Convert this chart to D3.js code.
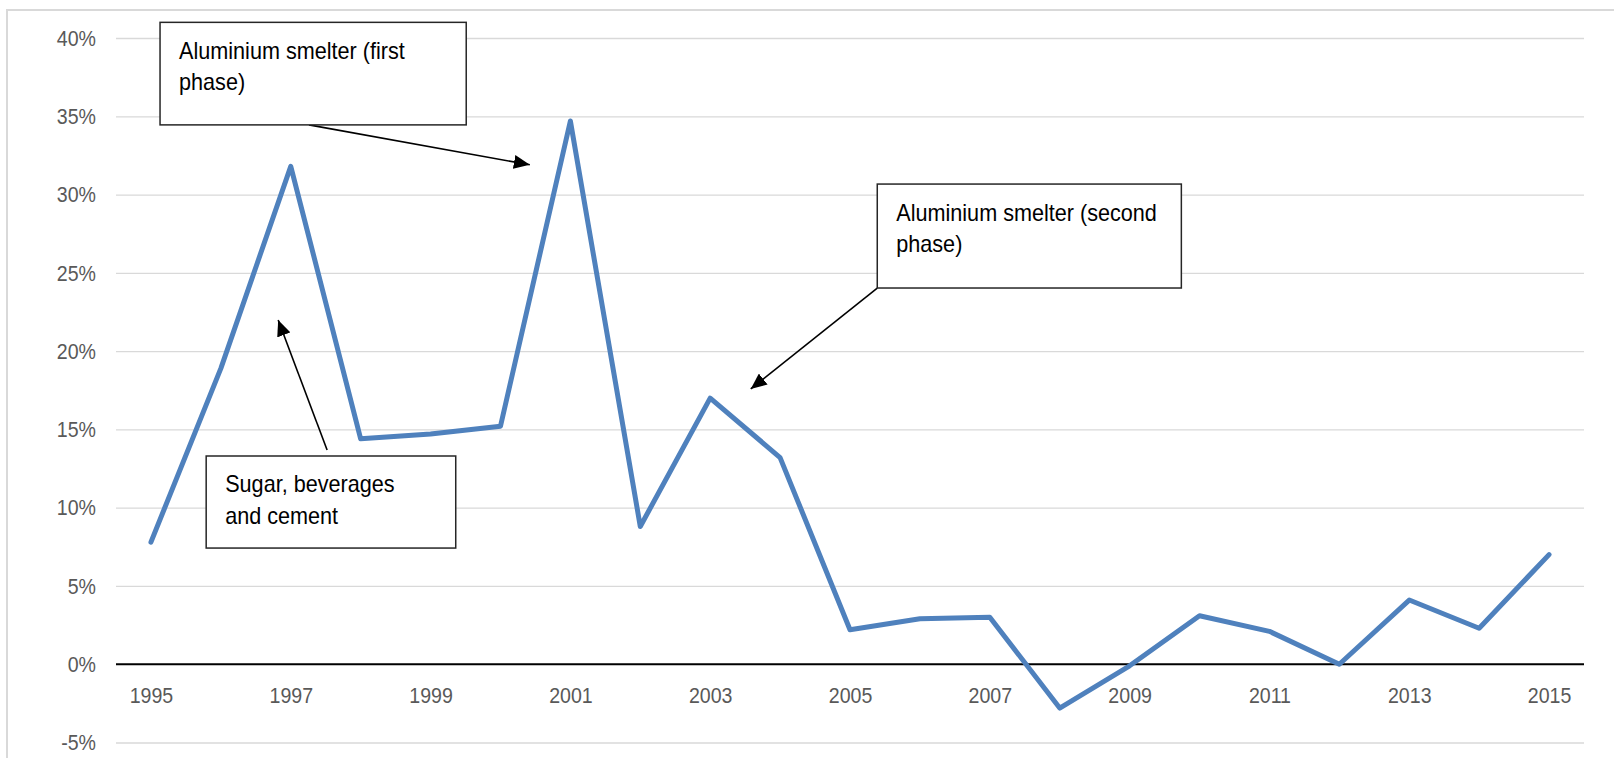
<!DOCTYPE html>
<html>
<head>
<meta charset="utf-8">
<script src="https://cdn.jsdelivr.net/npm/d3@7"></script>
<style>
  html, body { margin: 0; padding: 0; background: #fff; }
  svg { display: block; }
</style>
</head>
<body>
<svg id="chart" width="1614" height="758"></svg>
<script>
// Annual growth, 1995–2015 (percent)
const years = d3.range(1995, 2016);
const growth = [7.8, 18.9, 31.8, 14.4, 14.7, 15.2, 34.7, 8.8, 17.0, 13.2,
                2.2, 2.9, 3.0, -2.8, -0.1, 3.1, 2.1, 0.0, 4.1, 2.3, 7.0];
const yTicks = [-5, 0, 5, 10, 15, 20, 25, 30, 35, 40];
const xTickYears = [1995, 1997, 1999, 2001, 2003, 2005, 2007, 2009, 2011, 2013, 2015];

// Callout boxes, anchored in chart units (year, percent)
const callouts = [
  { lines: ["Aluminium smelter (first", "phase)"],
    box: [1995.13, 41.0, 1999.51, 34.45],
    arrow: [[1997.26, 34.45], [2000.42, 31.9]] },
  { lines: ["Aluminium smelter (second", "phase)"],
    box: [2005.39, 30.67, 2009.74, 24.03],
    arrow: [[2005.39, 24.03], [2003.58, 17.58]] },
  { lines: ["Sugar, beverages", "and cement"],
    box: [1995.79, 13.30, 1999.36, 7.42],
    arrow: [[1997.52, 13.68], [1996.82, 21.99]] }
];

const svg = d3.select("#chart");
const plot = { left: 116, right: 1584, top: 38, bottom: 742.5 };
const tickFont = "'Liberation Sans', Arial, sans-serif";
const tickSqueeze = 0.87;   // narrow look for axis labels
const noteSqueeze = 0.94;   // slightly condensed callout text

const x = d3.scalePoint().domain(years).range([plot.left, plot.right]).padding(0.5);
const xYear = d3.scaleLinear().domain([1995, 2015]).range([x(1995), x(2015)]);
const y = d3.scaleLinear().domain([-5, 40]).range([plot.bottom, plot.top]);

// Outer frame
svg.append("rect")
  .attr("x", 7).attr("y", 10)
  .attr("width", 1640).attr("height", 800)
  .attr("fill", "none").attr("stroke", "#d9d9d9").attr("stroke-width", 2);

// Gridlines and y labels
const yPad = 20;
const yAxis = d3.axisLeft(y).tickValues(yTicks)
  .tickSize(-(plot.right - plot.left)).tickPadding(yPad)
  .tickFormat(d => d + "%");
const gy = svg.append("g").attr("transform", `translate(${plot.left},0)`).call(yAxis);
gy.select(".domain").remove();
gy.selectAll(".tick line")
  .attr("stroke", d => d === 0 ? "none" : "#d9d9d9").attr("stroke-width", 1.3);
gy.selectAll(".tick text")
  .attr("fill", "#595959")
  .attr("x", -yPad / tickSqueeze)
  .attr("transform", `scale(${tickSqueeze},1)`)
  .style("font-family", tickFont)
  .style("font-size", "22.5px");

// Zero line with year labels
const xAxis = d3.axisBottom(x).tickValues(xTickYears).tickSize(0).tickPadding(23);
const gx = svg.append("g").attr("transform", `translate(0,${y(0)})`).call(xAxis);
gx.select(".domain").attr("stroke", "#000").attr("stroke-width", 2)
  .attr("d", `M${plot.left},0H${plot.right}`);
gx.selectAll(".tick text")
  .attr("fill", "#595959")
  .attr("transform", `scale(${tickSqueeze},1)`)
  .style("font-family", tickFont)
  .style("font-size", "22.5px");

// Series line
const line = d3.line().x((d, i) => x(years[i])).y(d => y(d));
svg.append("path")
  .datum(growth)
  .attr("d", line)
  .attr("fill", "none")
  .attr("stroke", "#4f81bd")
  .attr("stroke-width", 5)
  .attr("stroke-linejoin", "round")
  .attr("stroke-linecap", "round");

// Arrowhead marker
svg.append("defs").append("marker")
  .attr("id", "head")
  .attr("markerUnits", "userSpaceOnUse")
  .attr("viewBox", "0 0 16 14")
  .attr("refX", 16).attr("refY", 7)
  .attr("markerWidth", 16).attr("markerHeight", 14)
  .attr("orient", "auto")
  .append("path").attr("d", "M0,0L16,7L0,14Z").attr("fill", "#000");

// Callouts
const g = svg.append("g");
callouts.forEach(c => {
  const [x0, y0, x1, y1] = c.box;
  const bx = xYear(x0), by = y(y0), bw = xYear(x1) - bx, bh = y(y1) - by;
  g.append("line")
    .attr("x1", xYear(c.arrow[0][0])).attr("y1", y(c.arrow[0][1]))
    .attr("x2", xYear(c.arrow[1][0])).attr("y2", y(c.arrow[1][1]))
    .attr("stroke", "#000").attr("stroke-width", 1.6)
    .attr("marker-end", "url(#head)");
  g.append("rect")
    .attr("x", bx).attr("y", by).attr("width", bw).attr("height", bh)
    .attr("fill", "#fff").attr("stroke", "#262626").attr("stroke-width", 1.5);
  const tx = (bx + 19) / noteSqueeze;
  const t = g.append("text")
    .attr("x", tx).attr("y", by + 36.5)
    .attr("transform", `scale(${noteSqueeze},1)`)
    .attr("fill", "#000")
    .style("font-family", "'Liberation Sans', Arial, sans-serif")
    .style("font-size", "23px");
  c.lines.forEach((s, i) => {
    t.append("tspan").attr("x", tx).attr("dy", i === 0 ? 0 : 31.5).text(s);
  });
});
</script>
</body>
</html>
